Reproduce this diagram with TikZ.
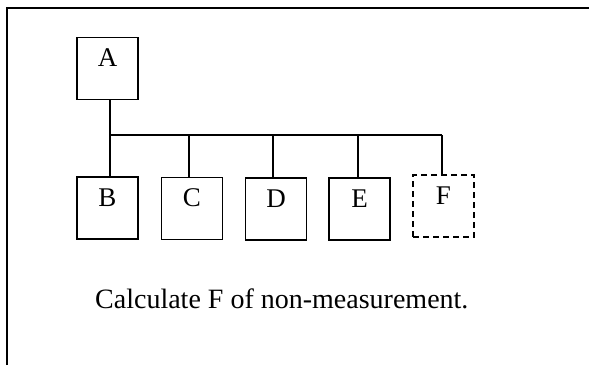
\documentclass[tikz,border=0pt]{standalone}
\usepackage{fontspec}
\setmainfont{Liberation Serif}
\begin{document}
\begin{tikzpicture}[x=1pt,y=-1pt,
  ln/.style={line width=1.9pt},
  box/.style={draw,ln,minimum width=61pt,minimum height=62pt,inner sep=0pt,
    text height=20pt,text depth=24pt,font=\fontsize{27}{30}\selectfont},
  dbox/.style={box,dash pattern=on 6pt off 4pt},
  note/.style={font=\fontsize{28}{32}\selectfont,inner sep=0pt}]
\useasboundingbox (0,0) rectangle (589,365);
% frame
\coordinate (fb) at (7,365);
\coordinate (fc) at (7,8);
\coordinate (fr) at (589,8);
\draw[line width=2.2pt] (fb) -- (fc) -- (fr);
% nodes
\node[box] (A) at (107.5,68.5) {A};
\node[box] (B) at (107.5,208) {B};
\node[box] (C) at (192,208.5) {C};
\node[box] (D) at (276,209) {D};
\node[box] (E) at (359.5,209) {E};
\node[dbox] (F) at (443.5,206) {F};
% bus
\coordinate (busL) at (110,135);
\coordinate (busR) at (442,135);
\draw[ln] (busL) -- (busR);
\coordinate (a1) at ([xshift=2.5pt]A.south);
\coordinate (b1) at ([xshift=2.5pt]B.north);
\draw[ln] (a1) -- (b1);
\coordinate (c1) at ([xshift=-3pt]C.north);
\draw[ln] (c1) -- (c1 |- busL);
\coordinate (d1) at ([xshift=-3pt]D.north);
\draw[ln] (d1) -- (d1 |- busL);
\coordinate (e1) at ([xshift=-1.5pt]E.north);
\draw[ln] (e1) -- (e1 |- busL);
\coordinate (f1) at ([xshift=-1.5pt,yshift=-1.5pt]F.north);
\draw[ln] (f1) -- (f1 |- busR);
% note
\node[note,anchor=base west] (note) at (95,308) {Calculate F of non-measurement.};
\end{tikzpicture}
\end{document}
